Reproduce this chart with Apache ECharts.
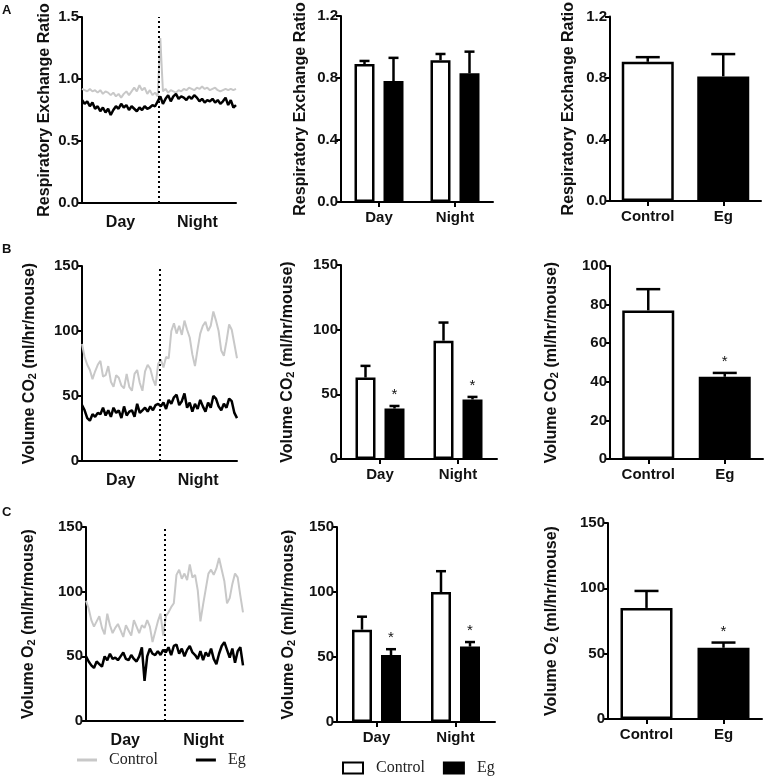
<!DOCTYPE html>
<html>
<head>
<meta charset="utf-8">
<script src="https://cdn.jsdelivr.net/npm/echarts@6/dist/echarts.min.js"></script>
<style>
  html, body { margin: 0; padding: 0; background: #fff; }
  #main { width: 768px; height: 778px; }
</style>
</head>
<body>
<div id="main"></div>
<script>
// ---------- data ----------
const periods = ['Day', 'Night'];
const groups = ['Control', 'Eg'];

// time courses: 30 readings in the day, 30 in the night
const rerCtrlLine = [0.92,0.91,0.90,0.92,0.90,0.91,0.89,0.91,0.88,0.90,0.89,0.87,0.89,0.86,0.88,0.85,0.88,0.90,0.87,0.90,0.93,0.90,0.95,0.91,0.93,0.88,0.91,0.87,0.89,0.86,
                     1.33,0.90,0.92,0.89,0.91,0.90,0.89,0.91,0.90,0.92,0.91,0.93,0.92,0.91,0.93,0.92,0.94,0.92,0.93,0.91,0.92,0.93,0.91,0.90,0.91,0.92,0.91,0.92,0.91,0.92];
const rerEgLine = [0.83,0.80,0.82,0.78,0.81,0.76,0.78,0.74,0.77,0.73,0.76,0.71,0.75,0.78,0.76,0.80,0.77,0.79,0.75,0.78,0.76,0.74,0.77,0.75,0.78,0.76,0.77,0.79,0.78,0.82,
                   0.86,0.80,0.84,0.87,0.82,0.86,0.88,0.84,0.86,0.85,0.83,0.86,0.84,0.87,0.85,0.82,0.84,0.81,0.83,0.82,0.84,0.81,0.83,0.80,0.82,0.85,0.79,0.83,0.77,0.79];
const co2CtrlLine = [90,80,74,70,63,69,74,77,65,66,73,61,57,66,64,58,56,67,57,54,67,70,60,54,69,74,71,63,58,75,
                     78,72,80,79,100,106,98,104,97,108,101,95,82,73,86,98,104,107,100,104,115,108,100,85,81,92,105,101,90,79];
const co2EgLine = [43,39,33,31,36,34,37,36,41,35,39,34,41,37,39,33,42,35,38,39,34,44,37,39,41,38,42,39,43,44,
                   42,45,40,47,44,49,51,43,46,52,41,45,38,44,40,47,42,38,45,41,50,48,42,39,44,41,48,46,37,33];
const o2CtrlLine = [93,87,78,73,77,81,72,67,83,74,68,72,75,70,65,74,70,66,78,73,68,74,72,78,73,61,69,77,83,66,
                    81,84,88,91,113,117,110,114,109,121,111,113,101,77,90,102,114,117,113,118,126,117,108,91,95,106,114,111,97,84];
const o2EgLine = [50,46,43,41,46,44,42,50,47,52,48,49,47,50,53,48,47,51,48,46,50,57,31,50,56,52,51,54,51,55,
                  53,57,51,58,59,52,56,50,55,58,53,51,48,54,47,53,50,56,48,44,52,58,61,55,49,56,45,54,57,43];

// day / night means and SEM
const rerCtrl = [0.89, 0.915];
const rerCtrlSem = [0.02, 0.04];
const rerEg = [0.78, 0.83];
const rerEgSem = [0.15, 0.14];
const co2Ctrl = [63, 91.5];
const co2CtrlSem = [9, 14];
const co2Eg = [39, 46];
const co2EgSem = [2, 2];
const o2Ctrl = [71, 100];
const o2CtrlSem = [10, 16];
const o2Eg = [51.5, 58];
const o2EgSem = [4.5, 3.5];

// whole-day means (Control, Eg) and SEM
const rerTotal = [0.905, 0.81];
const rerTotalSem = [0.03, 0.145];
const co2Total = [77, 42.6];
const co2TotalSem = [11, 2];
const o2Total = [85, 54.5];
const o2TotalSem = [13, 4];

// significance marks
const egSig = [1, 1];
const totalSig = [0, 1];

// y axes: [max, interval]
const rerTicks = [1.5, 0.5];
const rerBarTicks = [1.2, 0.4];
const vol150Ticks = [150, 50];
const vol100Ticks = [100, 20];

// ---------- chart ----------
const FONT = '"Liberation Sans", Arial, sans-serif';
const SERIF = '"Liberation Serif", "Times New Roman", serif';
const GRAY = '#c8c8c8';

const grids = [
  { left: 82, top: 17, width: 154, height: 186 },
  { left: 341, top: 16, width: 152, height: 186 },
  { left: 610, top: 15, width: 151, height: 186 },
  { left: 82, top: 266, width: 155, height: 195 },
  { left: 341, top: 265, width: 156, height: 194 },
  { left: 610, top: 266, width: 153, height: 193 },
  { left: 86, top: 527, width: 157, height: 194 },
  { left: 337, top: 527, width: 158, height: 195 },
  { left: 608, top: 523, width: 154, height: 196 }
];

const axisLineStyle = { color: '#000', width: 2 };

function yAx(gi, ticks, digits, name, gap) {
  return {
    type: 'value', gridIndex: gi, min: 0, max: ticks[0], interval: ticks[1],
    name: name, nameLocation: 'middle', nameGap: gap, nameRotate: 90,
    nameTextStyle: {
      fontFamily: FONT, fontWeight: 'bold', fontSize: 16, color: '#111',
      rich: { sub: { fontFamily: FONT, fontWeight: 'bold', fontSize: 11, color: '#111', verticalAlign: 'bottom' } }
    },
    axisLine: { show: true, lineStyle: axisLineStyle },
    axisTick: { show: true, length: 5, lineStyle: axisLineStyle },
    axisLabel: { fontFamily: FONT, fontWeight: 'bold', fontSize: 15, color: '#111', margin: 3,
      formatter: v => v.toFixed(digits) },
    splitLine: { show: false }
  };
}

const xAxes = [];
const yAxes = [];
const series = [];

function lineGrid(gi, ctrl, eg, ticks, digits, name, gap) {
  const xi = xAxes.length;
  xAxes.push({
    type: 'value', gridIndex: gi, min: 0, max: ctrl.length - 1,
    axisLine: { show: true, lineStyle: axisLineStyle },
    axisTick: { show: false }, axisLabel: { show: false }, splitLine: { show: false }
  });
  xAxes.push({
    type: 'category', gridIndex: gi, data: periods, position: 'bottom',
    axisLine: { show: false }, axisTick: { show: false },
    axisLabel: { fontFamily: FONT, fontWeight: 'bold', fontSize: 16, color: '#111', margin: 12 }
  });
  const yi = yAxes.length;
  yAxes.push(yAx(gi, ticks, digits, name, gap));
  series.push({
    type: 'line', name: 'Control', xAxisIndex: xi, yAxisIndex: yi, symbol: 'none',
    data: ctrl.map((v, i) => [i, v]),
    lineStyle: { color: GRAY, width: 2 }, itemStyle: { color: GRAY }
  });
  series.push({
    type: 'line', name: 'Eg', xAxisIndex: xi, yAxisIndex: yi, symbol: 'none',
    data: eg.map((v, i) => [i, v]),
    lineStyle: { color: '#000', width: 2.5 }, itemStyle: { color: '#000' },
    markLine: {
      silent: true, symbol: 'none', label: { show: false },
      lineStyle: { color: '#000', type: [2, 3], width: 2 },
      data: [{ xAxis: (ctrl.length - 1) / 2 }]
    }
  });
}

function errSeries(xi, yi, vals, sems, offset, capW, sig) {
  return {
    type: 'custom', xAxisIndex: xi, yAxisIndex: yi, z: 5,
    data: vals.map((v, i) => [i, v, v + sems[i], sig ? sig[i] : 0]),
    renderItem: function (params, api) {
      const c = api.coord([api.value(0), api.value(1)]);
      const t = api.coord([api.value(0), api.value(2)]);
      const x = c[0] + offset;
      const st = { stroke: '#000', lineWidth: 2.5 };
      const children = [
        { type: 'line', shape: { x1: x, y1: c[1], x2: x, y2: t[1] }, style: st },
        { type: 'line', shape: { x1: x - capW / 2, y1: t[1], x2: x + capW / 2, y2: t[1] }, style: st }
      ];
      if (api.value(3)) {
        children.push({ type: 'text', x: x, y: t[1] - 11,
          style: { text: '*', fontSize: 15, fontFamily: FONT, fill: '#111', align: 'center', verticalAlign: 'middle' } });
      }
      return { type: 'group', children: children };
    }
  };
}

function catAxis(gi, data) {
  return {
    type: 'category', gridIndex: gi, data: data,
    axisLine: { show: true, lineStyle: axisLineStyle },
    axisTick: { show: true, alignWithLabel: true, length: 5, lineStyle: axisLineStyle },
    axisLabel: { fontFamily: FONT, fontWeight: 'bold', fontSize: 15, color: '#111', margin: 8 }
  };
}

function groupedGrid(gi, ctrl, ctrlSem, eg, egSem, sig, ticks, digits, name, gap) {
  const xi = xAxes.length;
  xAxes.push(catAxis(gi, periods));
  const yi = yAxes.length;
  yAxes.push(yAx(gi, ticks, digits, name, gap));
  series.push({
    type: 'bar', name: 'Control', xAxisIndex: xi, yAxisIndex: yi, data: ctrl,
    barWidth: 20, barGap: '45%',
    itemStyle: { color: '#fff', borderColor: '#000', borderWidth: 2.5 }
  });
  series.push({
    type: 'bar', name: 'Eg', xAxisIndex: xi, yAxisIndex: yi, data: eg,
    barWidth: 20, barGap: '45%',
    itemStyle: { color: '#000', borderColor: '#000', borderWidth: 2.5 }
  });
  series.push(errSeries(xi, yi, ctrl, ctrlSem, -14.5, 10, null));
  series.push(errSeries(xi, yi, eg, egSem, 14.5, 10, sig));
}

function totalGrid(gi, vals, sems, sig, ticks, digits, name, gap) {
  const xi = xAxes.length;
  xAxes.push(catAxis(gi, groups));
  const yi = yAxes.length;
  yAxes.push(yAx(gi, ticks, digits, name, gap));
  series.push({
    type: 'bar', name: 'Total', xAxisIndex: xi, yAxisIndex: yi, barWidth: 52,
    data: vals.map((v, i) => ({
      value: v,
      itemStyle: i === 0 ? { color: '#fff', borderColor: '#000', borderWidth: 2.5 }
                         : { color: '#000', borderColor: '#000', borderWidth: 2.5 }
    }))
  });
  series.push(errSeries(xi, yi, vals, sems, 0, 24, sig));
}

const rerName = 'Respiratory Exchange Ratio';
const co2Name = 'Volume CO{sub|2} (ml/hr/mouse)';
const o2Name = 'Volume O{sub|2} (ml/hr/mouse)';

lineGrid(0, rerCtrlLine, rerEgLine, rerTicks, 1, rerName, 29);
groupedGrid(1, rerCtrl, rerCtrlSem, rerEg, rerEgSem, null, rerBarTicks, 1, rerName, 32);
totalGrid(2, rerTotal, rerTotalSem, null, rerBarTicks, 1, rerName, 33);
lineGrid(3, co2CtrlLine, co2EgLine, vol150Ticks, 0, co2Name, 44);
groupedGrid(4, co2Ctrl, co2CtrlSem, co2Eg, co2EgSem, egSig, vol150Ticks, 0, co2Name, 45);
totalGrid(5, co2Total, co2TotalSem, totalSig, vol100Ticks, 0, co2Name, 50);
lineGrid(6, o2CtrlLine, o2EgLine, vol150Ticks, 0, o2Name, 49);
groupedGrid(7, o2Ctrl, o2CtrlSem, o2Eg, o2EgSem, egSig, vol150Ticks, 0, o2Name, 40);
totalGrid(8, o2Total, o2TotalSem, totalSig, vol150Ticks, 0, o2Name, 48);

const chart = echarts.init(document.getElementById('main'));
chart.setOption({
  animation: false,
  backgroundColor: '#fff',
  title: [
    { text: 'A', left: 2, top: 4 },
    { text: 'B', left: 2, top: 243 },
    { text: 'C', left: 2, top: 506 }
  ].map(t => Object.assign(t, { padding: 0, textStyle: { fontFamily: FONT, fontWeight: 'bold', fontSize: 13, color: '#111' } })),
  legend: [
    {
      left: 72, top: 747, icon: 'rect', itemWidth: 20, itemHeight: 3, itemGap: 38, selectedMode: false,
      textStyle: { fontFamily: SERIF, fontSize: 16, color: '#222', padding: [0, 0, 0, 7] },
      data: [
        { name: 'Control', itemStyle: { color: GRAY, borderWidth: 0 } },
        { name: 'Eg', itemStyle: { color: '#000', borderWidth: 0 } }
      ]
    },
    {
      left: 337, top: 755, icon: 'rect', itemWidth: 20, itemHeight: 11, itemGap: 18, selectedMode: false,
      textStyle: { fontFamily: SERIF, fontSize: 16, color: '#222', padding: [0, 0, 0, 8] },
      data: [
        { name: 'Control', itemStyle: { color: '#fff', borderColor: '#000', borderWidth: 2 } },
        { name: 'Eg', itemStyle: { color: '#000', borderColor: '#000', borderWidth: 2 } }
      ]
    }
  ],
  grid: grids,
  xAxis: xAxes,
  yAxis: yAxes,
  series: series
});
</script>
</body>
</html>
